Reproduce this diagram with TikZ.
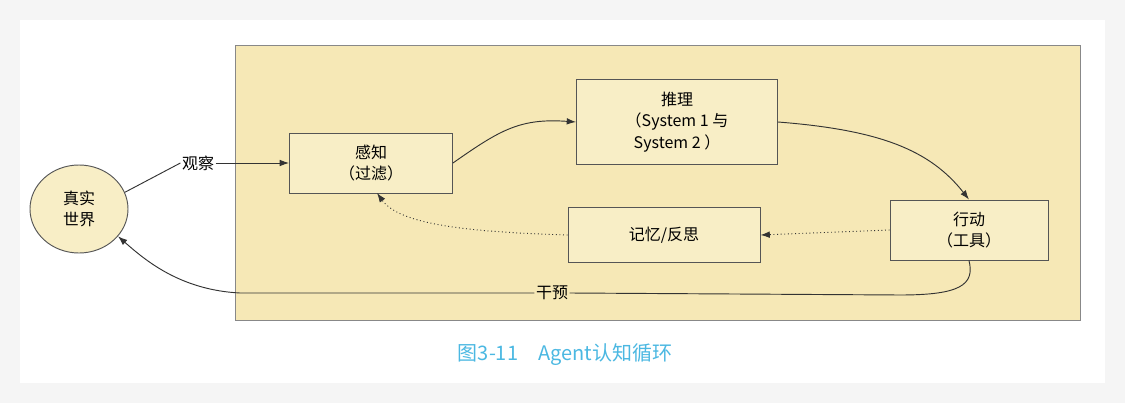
\documentclass[tikz,border=0pt]{standalone}
\usepackage{fontspec}
\setmainfont{Noto Sans CJK SC}
\usetikzlibrary{arrows.meta,shapes.geometric}
\definecolor{area}{HTML}{F6E8B6}
\definecolor{boxf}{HTML}{F8EEC6}
\definecolor{edge}{HTML}{555555}
\definecolor{cap}{HTML}{4BB8E2}
\begin{document}
\begin{tikzpicture}[x=0.75pt,y=-0.75pt,
  boxn/.style={draw=edge,fill=boxf,line width=0.7pt,align=center,font=\fontsize{12}{16}\selectfont,inner sep=0pt},
  arr/.style={draw=black!80,line width=0.7pt,-{Latex[length=7pt,width=5pt]}},
  dotarr/.style={arr,dotted}]
\useasboundingbox (0,0) rectangle (1125,403);
\fill[black!4] (0,0) rectangle (1125,403);
\fill[white] (20,20) rectangle (1105,383);
\fill[area,draw=edge!70,line width=0.6pt] (235,45) rectangle (1080,320);
\node[boxn,ellipse,minimum width=0.75*98pt,minimum height=0.75*88pt] (w) at (79,209) {真实\\世界};
\node[boxn,minimum width=0.75*163pt,minimum height=0.75*60pt] (p) at (371,163) {感知\\（过滤）};
\node[boxn,minimum width=0.75*201pt,minimum height=0.75*85pt] (r) at (677,122) {推理\\（System 1 与\\System 2 ）};
\node[boxn,minimum width=0.75*158pt,minimum height=0.75*60pt] (a) at (969,230) {行动\\（工具）};
\node[boxn,minimum width=0.75*192pt,minimum height=0.75*55pt] (m) at (664,235) {记忆/反思};
\node[font=\fontsize{12}{14}\selectfont,inner sep=1pt] (obs) at (198,163) {观察};
\draw[line width=0.7pt,black!80] (w.20) -- (obs.west);
\draw[arr] (obs.east) -- (p.west);
\draw[arr] (p.east) .. controls (500,130) and (520,118) .. (r.west);
\draw[arr] (r.east) .. controls (880,130) and (930,150) .. (a.north);
\draw[dotarr] (a.west) -- (m.east);
\draw[dotarr] (m.west) .. controls (470,232) and (400,225) .. (377,193);
\node[font=\fontsize{12}{14}\selectfont,fill=area,inner sep=1pt] (iv) at (552,293) {干预};
\draw[line width=0.7pt,black!80] (a.south) .. controls (975,285) and (960,295) .. (900,295) -- (iv.east);
\draw[arr] (iv.west) -- (240,293) .. controls (180,290) and (145,260) .. (w.-35);
\node[text=cap,font=\fontsize{15}{17}\selectfont] at (565,355) {图3-11\quad Agent认知循环};
\end{tikzpicture}
\end{document}
